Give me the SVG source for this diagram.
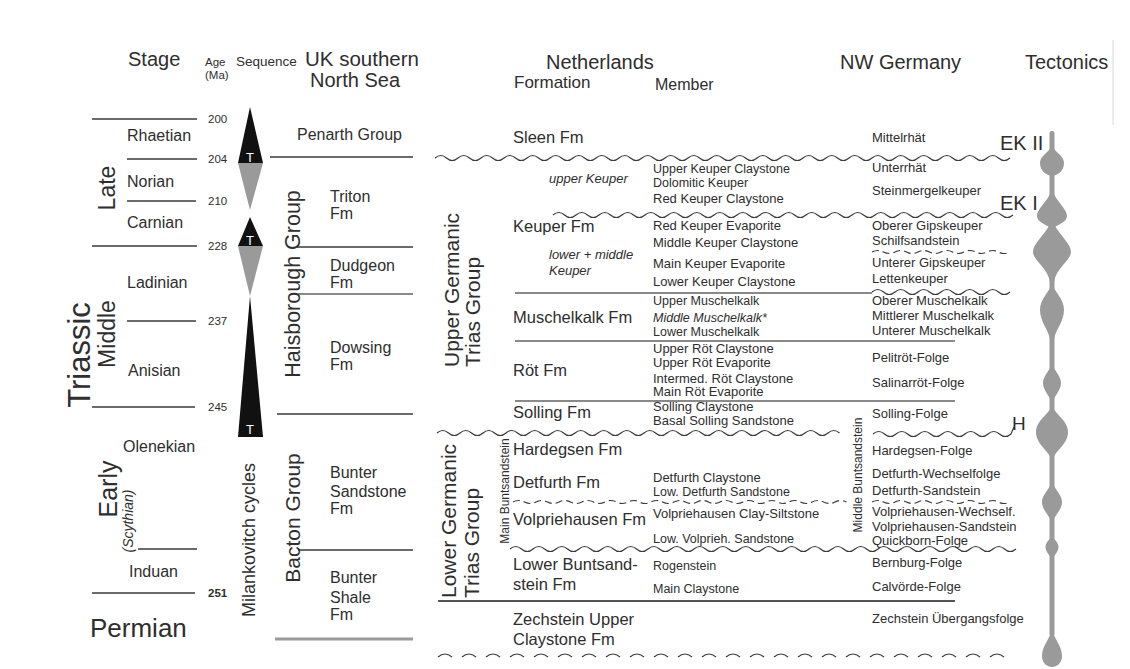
<svg xmlns="http://www.w3.org/2000/svg" width="1130" height="669" viewBox="0 0 1130 669">
<style>
text{font-family:"Liberation Sans",Arial,sans-serif;fill:#2e2e2e}
.hd{font-size:20px}
.st{font-size:16px}
.ag{font-size:11.5px}
.uk{font-size:16px}
.fm{font-size:16.5px}
.mb{font-size:13px}
.ms{font-size:12.5px}
.de{font-size:13px}
.it{font-style:italic}
.rot{font-size:21px}
.ln{stroke:#3a3a3a;stroke-width:1.3;fill:none}
.lg{stroke:#8a8a8a;stroke-width:2.2;fill:none}
.wv{stroke:#3a3a3a;stroke-width:1.2;fill:none}
.dw{stroke:#3a3a3a;stroke-width:1.2;fill:none;stroke-dasharray:7 4}
.blk{fill:#111}
.gry{fill:#9a9a9a}
.tw{fill:#fff;font-size:13px}
</style>
<rect x="0" y="0" width="1130" height="669" fill="#fff"/>
<line x1="1113" y1="40" x2="1113" y2="125" stroke="#d8d8d8" stroke-width="1"/>

<g id="headers">
<text class="hd" x="128" y="66">Stage</text>
<text class="ag" x="205" y="66" font-size="12">Age</text>
<text class="ag" x="205" y="79" font-size="12">(Ma)</text>
<text x="236" y="66" font-size="13.5">Sequence</text>
<text x="305" y="66" font-size="20.5">UK southern</text>
<text x="310" y="87" font-size="20">North Sea</text>
<text class="hd" x="546" y="69">Netherlands</text>
<text x="514" y="88" font-size="17">Formation</text>
<text x="655" y="90" font-size="16">Member</text>
<text class="hd" x="840" y="69">NW Germany</text>
<text class="hd" x="1025" y="69">Tectonics</text>
</g>

<g id="stage">
<line class="ln" x1="92" y1="119" x2="197" y2="119"/>
<line class="ln" x1="127" y1="159" x2="197" y2="159"/>
<line class="ln" x1="127" y1="201" x2="196" y2="201"/>
<line class="ln" x1="92" y1="246" x2="197" y2="246"/>
<line class="ln" x1="127" y1="321" x2="196" y2="321"/>
<line class="ln" x1="92" y1="407" x2="195" y2="407"/>
<line class="ln" x1="138" y1="549" x2="197" y2="549"/>
<line class="ln" x1="92" y1="593" x2="195" y2="593"/>
<text class="st" x="127" y="141">Rhaetian</text>
<text class="st" x="127" y="187">Norian</text>
<text class="st" x="127" y="228">Carnian</text>
<text class="st" x="127" y="288">Ladinian</text>
<text class="st" x="128" y="376">Anisian</text>
<text class="st" x="123" y="452">Olenekian</text>
<text class="st" x="129" y="577">Induan</text>
<text x="90" y="637" font-size="26">Permian</text>
<text transform="translate(115,188) rotate(-90)" text-anchor="middle" font-size="23">Late</text>
<text transform="translate(115,334) rotate(-90)" text-anchor="middle" font-size="23">Middle</text>
<text transform="translate(90,355) rotate(-90)" text-anchor="middle" font-size="31">Triassic</text>
<text transform="translate(117,489) rotate(-90)" text-anchor="middle" font-size="25">Early</text>
<text class="it" transform="translate(133,521) rotate(-90)" text-anchor="middle" font-size="14">(Scythian)</text>
</g>

<g id="age">
<text class="ag" x="208" y="123">200</text>
<text class="ag" x="208" y="163">204</text>
<text class="ag" x="208" y="205">210</text>
<text class="ag" x="208" y="250">228</text>
<text class="ag" x="208" y="325">237</text>
<text class="ag" x="208" y="411">245</text>
<text class="ag" x="208" y="597" font-weight="bold">251</text>
</g>

<g id="sequence">
<polygon class="blk" points="250,107 263,163 238,163"/>
<polygon class="gry" points="238,163 263,163 250,210"/>
<polygon class="blk" points="250,217 263,246 238,246"/>
<polygon class="gry" points="238,246 263,246 250,296"/>
<polygon class="blk" points="250,296 263,437 238,437"/>
<text class="tw" x="250" y="162" text-anchor="middle">T</text>
<text class="tw" x="250" y="245" text-anchor="middle">T</text>
<text class="tw" x="250" y="434" text-anchor="middle">T</text>
<text transform="translate(255,540) rotate(-90)" text-anchor="middle" font-size="18">Milankovitch cycles</text>
</g>

<g id="uk">
<text class="uk" x="297" y="140">Penarth Group</text>
<line class="ln" x1="270" y1="157" x2="413" y2="157"/>
<text class="uk" x="330" y="202">Triton</text>
<text class="uk" x="330" y="219">Fm</text>
<line class="ln" x1="297" y1="247" x2="413" y2="247"/>
<text class="uk" x="330" y="271">Dudgeon</text>
<text class="uk" x="330" y="288">Fm</text>
<line class="lg" x1="298" y1="294" x2="413" y2="294"/>
<text class="uk" x="330" y="353">Dowsing</text>
<text class="uk" x="330" y="370">Fm</text>
<line class="ln" x1="277" y1="414" x2="413" y2="414"/>
<text class="uk" x="330" y="478">Bunter</text>
<text class="uk" x="330" y="497">Sandstone</text>
<text class="uk" x="330" y="514">Fm</text>
<line class="ln" x1="298" y1="550" x2="413" y2="550"/>
<text class="uk" x="330" y="583">Bunter</text>
<text class="uk" x="330" y="603">Shale</text>
<text class="uk" x="330" y="620">Fm</text>
<line x1="275" y1="639" x2="413" y2="639" stroke="#9a9a9a" stroke-width="3"/>
<text transform="translate(300,284) rotate(-90)" text-anchor="middle" font-size="21.5">Haisborough Group</text>
<text transform="translate(300,518) rotate(-90)" text-anchor="middle" font-size="21">Bacton Group</text>
</g>

<g id="boundaries">
<path class="wv" d="M435,158 q5.75,-5 11.5,0 t11.5,0 t11.5,0 t11.5,0 t11.5,0 t11.5,0 t11.5,0 t11.5,0 t11.5,0 t11.5,0 t11.5,0 t11.5,0 t11.5,0 t11.5,0 t11.5,0 t11.5,0 t11.5,0 t11.5,0 t11.5,0 t11.5,0 t11.5,0 t11.5,0 t11.5,0 t11.5,0 t11.5,0 t11.5,0 t11.5,0 t11.5,0 t11.5,0 t11.5,0 t11.5,0 t11.5,0 t11.5,0 t11.5,0 t11.5,0 t11.5,0 t11.5,0 t11.5,0 t11.5,0 t11.5,0 t11.5,0 t11.5,0 t11.5,0 t11.5,0 t11.5,0 t11.5,0 t11.5,0 t11.5,0 t11.5,0 t11.5,0"/>
<path class="wv" d="M553,215 q5.75,-5 11.5,0 t11.5,0 t11.5,0 t11.5,0 t11.5,0 t11.5,0 t11.5,0 t11.5,0 t11.5,0 t11.5,0 t11.5,0 t11.5,0 t11.5,0 t11.5,0 t11.5,0 t11.5,0 t11.5,0 t11.5,0 t11.5,0 t11.5,0 t11.5,0 t11.5,0 t11.5,0 t11.5,0 t11.5,0 t11.5,0 t11.5,0 t11.5,0 t11.5,0 t11.5,0 t11.5,0 t11.5,0 t11.5,0 t11.5,0 t11.5,0 t11.5,0 t11.5,0 t11.5,0 t11.5,0 t11.5,0"/>
<path class="dw" d="M872,252 q5.75,-3 11.5,0 t11.5,0 t11.5,0 t11.5,0 t11.5,0 t11.5,0 t11.5,0 t11.5,0 t11.5,0 t11.5,0 t11.5,0 t11.5,0"/>
<line class="lg" x1="515" y1="293" x2="872" y2="293"/>
<path class="wv" d="M872,292 q5.75,-5 11.5,0 t11.5,0 t11.5,0 t11.5,0 t11.5,0 t11.5,0 t11.5,0 t11.5,0 t11.5,0 t11.5,0 t11.5,0 t11.5,0"/>
<line class="lg" x1="515" y1="341" x2="955" y2="341"/>
<line class="lg" x1="515" y1="401" x2="955" y2="401"/>
<path class="wv" d="M437,433 q5.75,-5 11.5,0 t11.5,0 t11.5,0 t11.5,0 t11.5,0 t11.5,0 t11.5,0 t11.5,0 t11.5,0 t11.5,0 t11.5,0 t11.5,0 t11.5,0 t11.5,0 t11.5,0 t11.5,0 t11.5,0 t11.5,0 t11.5,0 t11.5,0 t11.5,0 t11.5,0 t11.5,0 t11.5,0 t11.5,0 t11.5,0 t11.5,0 t11.5,0 t11.5,0 t11.5,0 t11.5,0 t11.5,0 t11.5,0 t11.5,0 t11.5,0"/>
<path class="wv" d="M873,434 q5.75,-5 11.5,0 t11.5,0 t11.5,0 t11.5,0 t11.5,0 t11.5,0 t11.5,0 t11.5,0 t11.5,0 t11.5,0 t11.5,0 t11.5,0 l3,-7"/>
<path class="dw" d="M513,502 q5.75,-3 11.5,0 t11.5,0 t11.5,0 t11.5,0 t11.5,0 t11.5,0 t11.5,0 t11.5,0 t11.5,0 t11.5,0 t11.5,0 t11.5,0 t11.5,0 t11.5,0 t11.5,0 t11.5,0 t11.5,0 t11.5,0 t11.5,0 t11.5,0 t11.5,0 t11.5,0 t11.5,0 t11.5,0 t11.5,0 t11.5,0 t11.5,0 t11.5,0 t11.5,0"/>
<path class="dw" d="M872,502 q5.75,-3 11.5,0 t11.5,0 t11.5,0 t11.5,0 t11.5,0 t11.5,0 t11.5,0 t11.5,0 t11.5,0 t11.5,0 t11.5,0 t11.5,0"/>
<path class="wv" d="M510,549 q5.75,-5 11.5,0 t11.5,0 t11.5,0 t11.5,0 t11.5,0 t11.5,0 t11.5,0 t11.5,0 t11.5,0 t11.5,0 t11.5,0 t11.5,0 t11.5,0 t11.5,0 t11.5,0 t11.5,0 t11.5,0 t11.5,0 t11.5,0 t11.5,0 t11.5,0 t11.5,0 t11.5,0 t11.5,0 t11.5,0 t11.5,0 t11.5,0 t11.5,0 t11.5,0 t11.5,0 t11.5,0 t11.5,0 t11.5,0 t11.5,0 t11.5,0 t11.5,0 t11.5,0 t11.5,0 t11.5,0 t11.5,0 t11.5,0 t11.5,0 t11.5,0 t11.5,0"/>
<line x1="438" y1="601" x2="955" y2="601" stroke="#555" stroke-width="2"/>
<path class="wv" d="M438,657 q7,-6 14,0 m10,0 q7,-6 14,0 m10,0 q7,-6 14,0 m10,0 q7,-6 14,0 m10,0 q7,-6 14,0 m10,0 q7,-6 14,0 m10,0 q7,-6 14,0 m10,0 q7,-6 14,0 m10,0 q7,-6 14,0 m10,0 q7,-6 14,0 m10,0 q7,-6 14,0 m10,0 q7,-6 14,0 m10,0 q7,-6 14,0 m10,0 q7,-6 14,0 m10,0 q7,-6 14,0 m10,0 q7,-6 14,0 m10,0 q7,-6 14,0 m10,0 q7,-6 14,0 m10,0 q7,-6 14,0 m10,0 q7,-6 14,0 m10,0 q7,-6 14,0 m10,0 q7,-6 14,0 m10,0 q7,-6 14,0 m10,0 q7,-6 14,0"/>
</g>

<g id="netherlands">
<text transform="translate(459,367) rotate(-90)" class="rot">Upper Germanic</text>
<text transform="translate(480,367) rotate(-90)" class="rot">Trias Group</text>
<text transform="translate(456,598) rotate(-90)" class="rot">Lower Germanic</text>
<text transform="translate(479,598) rotate(-90)" class="rot">Trias Group</text>
<text transform="translate(509,491) rotate(-90)" text-anchor="middle" font-size="12">Main Buntsandstein</text>
<text class="fm" x="513" y="143">Sleen Fm</text>
<text class="fm" x="513" y="232">Keuper Fm</text>
<text class="fm" x="513" y="323">Muschelkalk Fm</text>
<text class="fm" x="513" y="376">Röt Fm</text>
<text class="fm" x="513" y="418">Solling Fm</text>
<text class="fm" x="513" y="455">Hardegsen Fm</text>
<text class="fm" x="513" y="488">Detfurth Fm</text>
<text class="fm" x="513" y="525">Volpriehausen Fm</text>
<text class="fm" x="513" y="570">Lower Buntsand-</text>
<text class="fm" x="513" y="590">stein Fm</text>
<text class="fm" x="513" y="625">Zechstein Upper</text>
<text class="fm" x="513" y="645">Claystone Fm</text>
<text class="mb it" x="549" y="183">upper Keuper</text>
<text class="mb it" x="549" y="259">lower + middle</text>
<text class="mb it" x="549" y="275">Keuper</text>
<text class="ms" x="653" y="173">Upper Keuper Claystone</text>
<text class="ms" x="653" y="187">Dolomitic Keuper</text>
<text class="mb" x="653" y="203">Red Keuper Claystone</text>
<text class="mb" x="653" y="230">Red Keuper Evaporite</text>
<text class="mb" x="653" y="247">Middle Keuper Claystone</text>
<text class="mb" x="653" y="268">Main Keuper Evaporite</text>
<text class="mb" x="653" y="286">Lower Keuper Claystone</text>
<text class="ms" x="653" y="305">Upper Muschelkalk</text>
<text class="ms it" x="653" y="322">Middle Muschelkalk*</text>
<text class="ms" x="653" y="336">Lower Muschelkalk</text>
<text class="mb" x="653" y="353">Upper Röt Claystone</text>
<text class="mb" x="653" y="367">Upper Röt Evaporite</text>
<text class="mb" x="653" y="383">Intermed. Röt Claystone</text>
<text class="mb" x="653" y="396">Main Röt Evaporite</text>
<text class="mb" x="653" y="411">Solling Claystone</text>
<text class="mb" x="653" y="425">Basal Solling Sandstone</text>
<text class="mb" x="653" y="482">Detfurth Claystone</text>
<text class="ms" x="653" y="496">Low. Detfurth Sandstone</text>
<text class="mb" x="653" y="518">Volpriehausen Clay-Siltstone</text>
<text class="ms" x="653" y="543">Low. Volprieh. Sandstone</text>
<text class="ms" x="653" y="570">Rogenstein</text>
<text class="ms" x="653" y="593">Main Claystone</text>
</g>

<g id="nw-germany">
<text transform="translate(862,475) rotate(-90)" text-anchor="middle" font-size="12">Middle Buntsandstein</text>
<text class="de" x="872" y="142">Mittelrhät</text>
<text class="de" x="872" y="172">Unterrhät</text>
<text class="de" x="872" y="195">Steinmergelkeuper</text>
<text class="de" x="872" y="230" font-size="14">Oberer Gipskeuper</text>
<text class="de" x="872" y="245" font-size="14">Schilfsandstein</text>
<text class="de" x="872" y="267" font-size="14">Unterer Gipskeuper</text>
<text class="de" x="872" y="283" font-size="14">Lettenkeuper</text>
<text class="de" x="872" y="305">Oberer Muschelkalk</text>
<text class="de" x="872" y="320">Mittlerer Muschelkalk</text>
<text class="de" x="872" y="335">Unterer Muschelkalk</text>
<text class="de" x="872" y="362">Pelitröt-Folge</text>
<text class="de" x="872" y="387">Salinarröt-Folge</text>
<text class="de" x="872" y="418">Solling-Folge</text>
<text class="de" x="872" y="455" font-size="12">Hardegsen-Folge</text>
<text class="de" x="872" y="478">Detfurth-Wechselfolge</text>
<text class="de" x="872" y="495">Detfurth-Sandstein</text>
<text class="de" x="872" y="516">Volpriehausen-Wechself.</text>
<text class="de" x="872" y="531">Volpriehausen-Sandstein</text>
<text class="de" x="872" y="545" font-size="11.5">Quickborn-Folge</text>
<text class="de" x="872" y="567">Bernburg-Folge</text>
<text class="de" x="872" y="591">Calvörde-Folge</text>
<text class="de" x="872" y="623" font-size="12.5">Zechstein Übergangsfolge</text>
</g>

<g id="tectonics">
<text x="1000" y="150" font-size="20">EK II</text>
<text x="1000" y="210" font-size="20">EK I</text>
<text x="1012" y="430" font-size="19">H</text>
<g fill="#9a9a9a">
<rect x="1049.5" y="131" width="5" height="505" rx="2"/>
<path d="M1052,145 C1054,152 1064,155 1064,163 C1064,171 1058,175 1052,176 C1046,175 1040,171 1040,163 C1040,155 1050,152 1052,145 Z"/>
<path d="M1052,188 C1054,200 1067,208 1067,216 C1067,221 1060,224 1055,227 L1049,227 C1044,224 1037,221 1037,216 C1037,208 1050,200 1052,188 Z"/>
<path d="M1049,226 L1055,226 C1060,235 1071,244 1071,252 C1071,260 1056,268 1054,282 L1050,282 C1048,268 1033,260 1033,252 C1033,244 1044,235 1049,226 Z"/>
<path d="M1052,283 C1054,292 1064,298 1064,310 C1064,322 1055,330 1054,340 L1050,340 C1049,330 1040,322 1040,310 C1040,298 1050,292 1052,283 Z"/>
<path d="M1052,363 C1055,372 1061,376 1061,383 C1061,390 1055,395 1052,403 C1049,395 1043,390 1043,383 C1043,376 1049,372 1052,363 Z"/>
<path d="M1052,405 C1055,415 1068,420 1068,432 C1068,444 1056,450 1052,460 C1048,450 1036,444 1036,432 C1036,420 1049,415 1052,405 Z"/>
<path d="M1052,480 C1054,490 1062,494 1062,502 C1062,510 1055,514 1052,524 C1049,514 1042,510 1042,502 C1042,494 1050,490 1052,480 Z"/>
<path d="M1052,535 C1054,540 1058.5,542 1058.5,547 C1058.5,552 1054,555 1052,560 C1050,555 1045.5,552 1045.5,547 C1045.5,542 1050,540 1052,535 Z"/>
<path d="M1052,628 C1054,640 1062,645 1062,656 C1062,663 1057,667 1052,667 C1047,667 1042,663 1042,656 C1042,645 1050,640 1052,628 Z"/>
</g>
</g>
</svg>
